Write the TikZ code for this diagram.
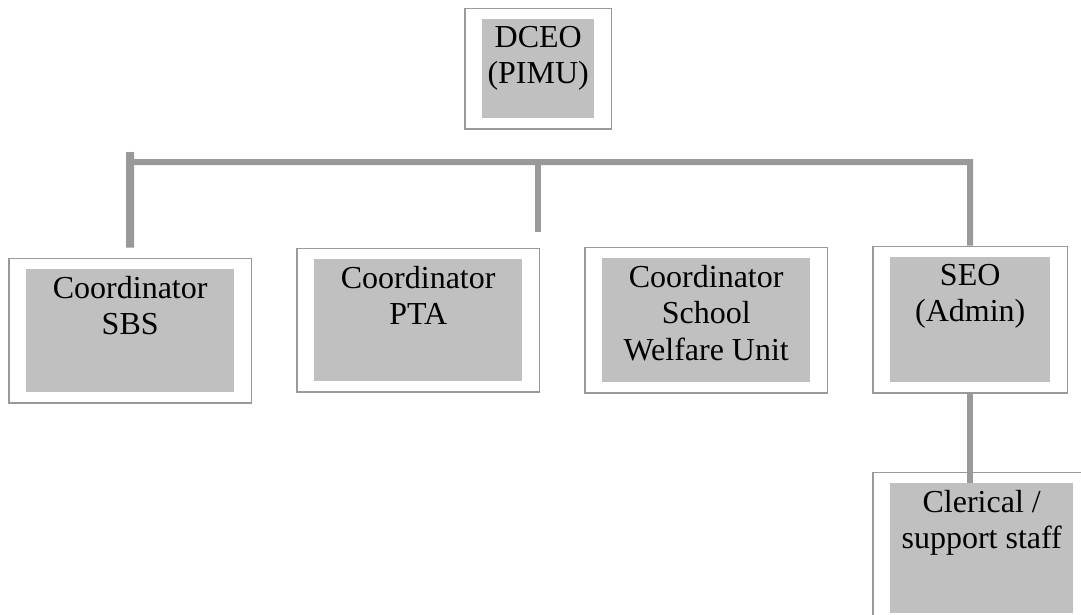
\documentclass[tikz,border=0pt]{standalone}
\usepackage{fontspec}
\setmainfont{Liberation Serif}
\usetikzlibrary{fit}
\definecolor{boxgray}{HTML}{C0C0C0}
\definecolor{linegray}{HTML}{999999}
\tikzset{
  cell/.style={fill=boxgray, draw=none, anchor=north west, inner sep=0pt},
  label text/.style={anchor=north, align=center, inner sep=7pt, text=black,
    font=\fontsize{32}{36.5}\selectfont},
  frame/.style={draw=linegray, line width=1.6pt, inner xsep=17pt, inner ysep=10.5pt},
  conn/.style={draw=linegray, line width=6pt}
}
\begin{document}
\begin{tikzpicture}[x=1pt, y=-1pt]
    \clip (0,0) rectangle (1081,614);
    % Head
    \node[cell, minimum width=112, minimum height=99] (dceo) at (482,19) {};
    \node[label text] (dceotxt) at (dceo.north) {DCEO\\(PIMU)};
    \node[frame, fit=(dceo)] (dceoframe) {};
    % Coordinators
    \node[cell, minimum width=208, minimum height=123] (sbs) at (26,269) {};
    \node[label text] (sbstxt) at (sbs.north) {Coordinator\\SBS};
    \node[frame, fit=(sbs)] (sbsframe) {};
    \node[cell, minimum width=208, minimum height=122] (pta) at (314,259) {};
    \node[label text] (ptatxt) at (pta.north) {Coordinator\\PTA};
    \node[frame, fit=(pta)] (ptaframe) {};
    \node[cell, minimum width=208, minimum height=124] (swu) at (602,258) {};
    \node[label text] (swutxt) at (swu.north) {Coordinator\\School\\Welfare Unit};
    \node[frame, fit=(swu)] (swuframe) {};
    % Admin
    \node[cell, minimum width=160, minimum height=125] (seo) at (890,257) {};
    \node[label text] (seotxt) at (seo.north) {SEO\\(Admin)};
    \node[frame, fit=(seo)] (seoframe) {};
    \node[cell, minimum width=183, minimum height=130] (clk) at (890,483) {};
    \node[label text] (clktxt) at (clk.north) {Clerical /\\support staff};
    \node[frame, fit=(clk)] (clkframe) {};
    % Lines
    \coordinate (barL) at (130,162);
    \coordinate (barR) at (970,162);
    \coordinate (tickL) at (130,152);
    \coordinate (tickM) at ([xshift=-2pt]ptaframe.north east);
    \draw[conn] (barL) -- (barR) -- (seoframe.north);
    \draw[conn, line width=8pt] (tickL) -- ([yshift=10pt]sbsframe.north);
    \draw[conn] (barL -| tickM) -- ([yshift=16pt]tickM);
    \draw[conn] (seoframe.south) -- (seoframe.south |- clk.north);
\end{tikzpicture}
\end{document}
